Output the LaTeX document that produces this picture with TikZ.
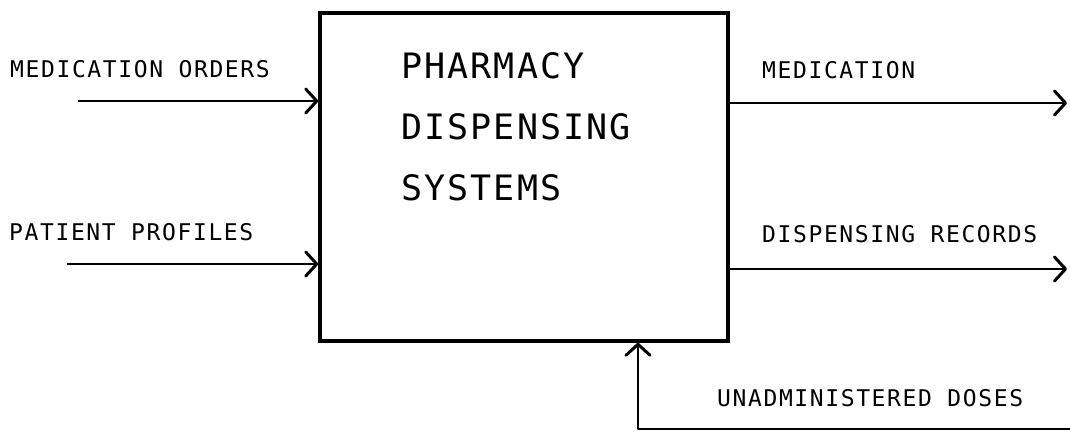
\documentclass[tikz,border=0pt]{standalone}
\usepackage{fontspec}
\usetikzlibrary{arrows.meta}
\newfontfamily\plotlabel[LetterSpace=7]{DejaVu Sans Mono}
\newfontfamily\plottitle[LetterSpace=6]{DejaVu Sans Mono}
\tikzset{
  lbl/.style={inner sep=0pt, anchor=base west, font=\plotlabel\fontsize{23}{26}\selectfont},
  ttl/.style={inner sep=0pt, anchor=base west, font=\plottitle\fontsize{35}{40}\selectfont},
  flow/.style={line width=2.2pt, line join=round,
    -{Straight Barb[length=11pt,width=24pt,line width=3pt,line join=round,line cap=round]}},
  sysbox/.style={draw, line width=3.5pt, minimum width=408pt, minimum height=328pt, inner sep=0pt}
}
\begin{document}
\begin{tikzpicture}[x=1pt,y=-1pt]
\useasboundingbox (0,0) rectangle (1070,432);

% activity box
\node[sysbox] (sys) at (524,177) {};
\node[ttl] (t1) at (401,78) {PHARMACY};
\node[ttl] (t2) at (401,139) {DISPENSING};
\node[ttl] (t3) at (401,200) {SYSTEMS};

% inputs
\node[lbl] (mo) at (10,77) {MEDICATION ORDERS};
\coordinate (moS) at (78,101);
\draw[flow] (moS) -- (sys.west |- moS);

\node[lbl] (pp) at (9,240) {PATIENT PROFILES};
\coordinate (ppS) at (67,264);
\draw[flow] (ppS) -- (sys.west |- ppS);

% outputs
\node[lbl] (med) at (762,78) {MEDICATION};
\coordinate (medE) at (1067,103);
\draw[flow] (sys.east |- medE) -- (medE);

\node[lbl] (dr) at (762,242) {DISPENSING RECORDS};
\coordinate (drE) at (1067,269);
\draw[flow] (sys.east |- drE) -- (drE);

% mechanism from below
\node[lbl] (ud) at (717,406) {UNADMINISTERED DOSES};
\coordinate (udE) at (1072,429);
\coordinate (udC) at (638,429);
\draw[flow] (udE) -- (udC) -- (sys.south -| udC);
\end{tikzpicture}
\end{document}
